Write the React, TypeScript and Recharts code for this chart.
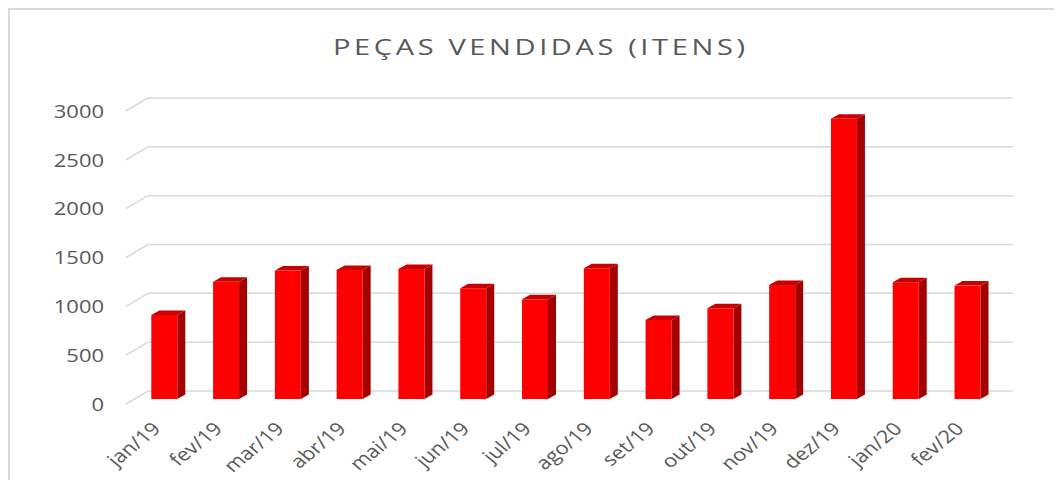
import React from 'react';
import { BarChart, Bar, XAxis, YAxis, CartesianGrid } from 'recharts';

const months = [
  'jan/19', 'fev/19', 'mar/19', 'abr/19', 'mai/19', 'jun/19', 'jul/19',
  'ago/19', 'set/19', 'out/19', 'nov/19', 'dez/19', 'jan/20', 'fev/20',
];
const pecas = [860, 1200, 1315, 1322, 1332, 1134, 1021, 1339, 809, 929, 1168, 2869, 1196, 1161];
const yTicks = [0, 500, 1000, 1500, 2000, 2500, 3000];

const data = months.map((m, i) => ({ mes: m, pecas: pecas[i] }));

// the reference picture is stretched sideways a bit, so text gets scaled too
const STRETCH = 1.22;
const TEXT = '#595959';
const FONT = '"Open Sans", sans-serif';

// 3d column: front face pushed forward/down from the back wall, plus side and top faces
const Column3D = (props: any) => {
  const { x, y, width, height } = props;
  if (height == null || height <= 0) return null;
  const fx = x - 14.7;
  const fy = y + 8;
  const dx = 8;
  const dy = 4.5;
  const r = fx + width;
  const b = fy + height;
  return (
    <g>
      <polygon points={`${r},${fy} ${r + dx},${fy - dy} ${r + dx},${b - dy} ${r},${b}`} fill="#a50000" />
      <polygon points={`${fx},${fy} ${fx + dx},${fy - dy} ${r + dx},${fy - dy} ${r},${fy}`} fill="#c80000" />
      <rect x={fx} y={fy} width={width} height={height} fill="#ff0000" />
    </g>
  );
};

const YTick = (props: any) => {
  const { y, payload } = props;
  const left = 138;
  return (
    <g>
      <line x1={left} y1={y} x2={left - 22} y2={y + 13} stroke="#d9d9d9" strokeWidth={1.5} />
      <text
        transform={`translate(${94},${y + 13}) scale(${STRETCH},1)`}
        textAnchor="end"
        dominantBaseline="central"
        fontFamily={FONT}
        fontSize={18}
        fill={TEXT}
      >
        {payload.value}
      </text>
    </g>
  );
};

const XTick = (props: any) => {
  const { x, y, payload } = props;
  return (
    <text
      transform={`translate(${x - 17},${y + 31}) scale(${STRETCH},1) rotate(-45)`}
      textAnchor="end"
      fontFamily={FONT}
      fontSize={18}
      fill={TEXT}
    >
      {payload.value}
    </text>
  );
};

const App: React.FC = () => (
  <div
    style={{
      position: 'relative',
      width: 1052,
      height: 470,
      borderTop: '2px solid #d9d9d9',
      borderLeft: '2px solid #d9d9d9',
      background: '#fff',
    }}
  >
    <svg width={1052} height={70} style={{ position: 'absolute', left: 0, top: 0 }}>
      <text
        transform={`translate(${529},${36}) scale(1.32,1)`}
        textAnchor="middle"
        dominantBaseline="central"
        fontFamily={FONT}
        fontSize={22}
        fill={TEXT}
        textLength={412 / 1.32}
        lengthAdjust="spacing"
      >
        PEÇAS VENDIDAS (ITENS)
      </text>
    </svg>
    <BarChart
      width={1052}
      height={470}
      data={data}
      margin={{ top: 88, right: 49, left: 0, bottom: 0 }}
      barCategoryGap={0}
    >
      <CartesianGrid vertical={false} stroke="#d9d9d9" strokeWidth={1.5} />
      <XAxis
        dataKey="mes"
        height={89}
        interval={0}
        axisLine={false}
        tickLine={false}
        tick={<XTick />}
      />
      <YAxis
        width={138}
        domain={[0, 3000]}
        ticks={yTicks}
        axisLine={false}
        tickLine={false}
        tick={<YTick />}
      />
      <Bar dataKey="pecas" barSize={26} shape={<Column3D />} isAnimationActive={false} />
    </BarChart>
  </div>
);

export default App;
